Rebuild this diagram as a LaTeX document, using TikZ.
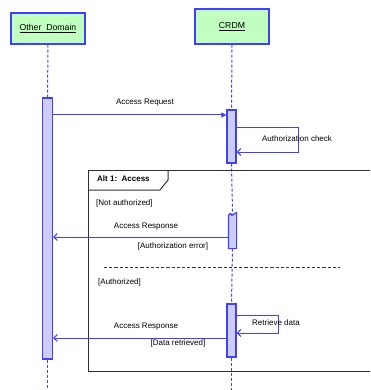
\documentclass[tikz,border=0pt]{standalone}
\usepackage{fontspec}
\setmainfont{Liberation Sans}
\usetikzlibrary{arrows.meta}
\definecolor{lblue}{HTML}{4040FF}
\definecolor{boxgreen}{HTML}{C0FFC0}
\definecolor{barfill}{HTML}{CCCCFF}
\definecolor{framegray}{HTML}{303030}
\begin{document}
\begin{tikzpicture}[x=1pt,y=-1pt,
  actor/.style={draw=lblue,line width=1.4pt,fill=boxgreen,minimum width=74pt,inner sep=0pt,font=\fontsize{8.7}{10}\selectfont},
  bar/.style={draw=lblue,line width=1.2pt,fill=barfill,inner sep=0pt},
  life/.style={draw=lblue,line width=1pt,dash pattern=on 3pt off 2pt},
  msg/.style={draw=lblue,line width=1pt},
  openarrow/.style={msg,-{Straight Barb[length=3.5pt,width=7pt,line width=1pt]}},
  fillarrow/.style={msg,-{Triangle[length=5pt,width=5pt]}},
  lbl/.style={font=\fontsize{8}{9}\selectfont,inner sep=0pt,text=black},
  guard/.style={lbl,anchor=west}]
\clip (0,0) rectangle (370,390);
\fill[white] (0,0) rectangle (370,390);

% actors
\node[actor,minimum height=31pt] (od) at (48,28.5) {\underline{Other~~Domain}};
\node[actor,minimum height=35pt] (crdm) at (232,26.5) {\underline{CRDM}};

% activation bars
\node[bar,minimum width=10pt,minimum height=261pt] (odbar) at (47.5,228.5) {};
\node[bar,minimum width=9pt,minimum height=53pt] (cbar1) at (231.5,136.5) {};
\node[bar,draw=none,minimum width=7pt,minimum height=35pt] (cbar2) at (232.5,230.5) {};
\draw[lblue,line width=1.2pt,line join=round] (cbar2.south west) -- ([yshift=-3pt]cbar2.north west) -- ([xshift=2pt,yshift=-1pt]cbar2.north west) -- ([xshift=3.5pt,yshift=-3pt]cbar2.north west) -- (cbar2.north east) -- (cbar2.south east) -- cycle;
\node[bar,minimum width=9pt,minimum height=53pt] (cbar3) at (231.5,330.5) {};

% page bottom anchors
\coordinate (bottom) at (0,392);

% lifelines
\draw[life] (od.south) -- (odbar.north);
\draw[life] (odbar.south) -- (odbar.south |- bottom);
\draw[life] (crdm.south) -- (cbar1.north);
\draw[life] (cbar1.south) -- (cbar2.north);
\draw[life] (cbar2.south) -- (cbar3.north);
\draw[life] (cbar3.south) -- (cbar3.south |- bottom);

% combined fragment
\node[draw=framegray,line width=1pt,minimum width=290pt,minimum height=201pt,anchor=north west,inner sep=0pt] (frame) at (88,170) {};
\coordinate (tabA) at (168,170);
\coordinate (tabB) at (168,180);
\coordinate (tabC) at (160,190);
\coordinate (tabD) at (88,190);
\draw[framegray,line width=1pt] (tabA) -- (tabB) -- (tabC) -- (tabD);
\node[lbl,anchor=west,font=\fontsize{8}{9}\selectfont\bfseries] (alt) at (97,178.5) {Alt 1:~~Access};
\coordinate (sepL) at (104,267);
\coordinate (sepR) at (340,267);
\draw[framegray,line width=0.9pt,dash pattern=on 3.2pt off 2pt] (sepL) -- (sepR);

% message y positions
\coordinate (y1) at (0,115);
\coordinate (s1a) at (0,128);
\coordinate (s1b) at (0,152);
\coordinate (s1r) at (298,0);
\coordinate (y2) at (0,237);
\coordinate (s2a) at (0,315);
\coordinate (s2b) at (0,333);
\coordinate (s2r) at (278,0);
\coordinate (y3) at (0,338);

% messages
\draw[fillarrow] (odbar.east |- y1) -- (cbar1.west |- y1);
\node[lbl] (l1) at (145,103) {Access Request};

\draw[openarrow] (cbar1.east |- s1a) -- (s1r |- s1a) -- (s1r |- s1b) -- (cbar1.east |- s1b);
\node[lbl] (l2) at (297,139) {Authorization check};

\node[guard] (g1) at (96,203) {[Not authorized]};
\draw[openarrow] (cbar2.west |- y2) -- (odbar.east |- y2);
\node[lbl] (l3) at (146,227) {Access Response};
\node[lbl] (l4) at (173,246) {[Authorization error]};

\node[guard] (g2) at (98,282) {[Authorized]};
\draw[openarrow] (cbar3.east |- s2a) -- (s2r |- s2a) -- (s2r |- s2b) -- (cbar3.east |- s2b);
\node[lbl] (l5) at (276,323) {Retrieve data};
\draw[openarrow] (cbar3.west |- y3) -- (odbar.east |- y3);
\node[lbl] (l6) at (146,327) {Access Response};
\node[lbl] (l7) at (178,343) {[Data retrieved]};
\end{tikzpicture}
\end{document}
